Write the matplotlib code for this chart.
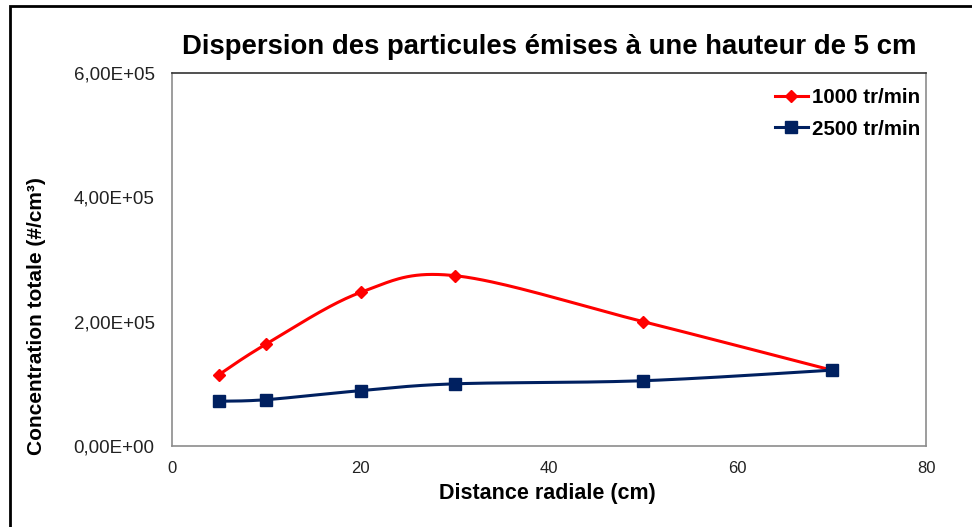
import numpy as np
import matplotlib
matplotlib.use("Agg")
import matplotlib.pyplot as plt
from matplotlib.lines import Line2D
from matplotlib.patches import Rectangle

# Data
distance_cm = [5, 10, 20, 30, 50, 70]
conc_1000 = [1.15e5, 1.64e5, 2.47e5, 2.74e5, 2.00e5, 1.22e5]
conc_2500 = [0.72e5, 0.745e5, 0.89e5, 1.00e5, 1.05e5, 1.22e5]
series_labels = ["1000 tr/min", "2500 tr/min"]
y_ticks = [0, 2e5, 4e5, 6e5]
y_tick_labels = ["0,00E+00", "2,00E+05", "4,00E+05", "6,00E+05"]
x_ticks = [0, 20, 40, 60, 80]

plt.rcParams["font.family"] = ["Liberation Sans", "DejaVu Sans"]

W, H = 972, 527
fig = plt.figure(figsize=(W / 100, H / 100), dpi=100)
AX = [0.177, 0.1537, 0.7757, 0.7078]
ax = fig.add_axes(AX)
ax.set_xlim(0, 80)
ax.set_ylim(0, 6e5)

ASPECT = (AX[3] * H) / (AX[2] * W)


def smooth_path(xs, ys, xr, yr, n=40):
    """Parametric Catmull-Rom (Bezier) smoothing in normalized axes space."""
    px = (np.asarray(xs, float) - xr[0]) / (xr[1] - xr[0])
    py = (np.asarray(ys, float) - yr[0]) / (yr[1] - yr[0]) * ASPECT
    pts = np.column_stack([px, py])
    out = []
    m = len(pts)
    for i in range(m - 1):
        p0 = pts[i - 1] if i > 0 else pts[i]
        p1 = pts[i]
        p2 = pts[i + 1]
        p3 = pts[i + 2] if i + 2 < m else pts[i + 1]
        c1 = p1 + (p2 - p0) / 6.0
        c2 = p2 - (p3 - p1) / 6.0
        t = np.linspace(0, 1, n)[:, None]
        seg = ((1 - t) ** 3) * p1 + 3 * ((1 - t) ** 2) * t * c1 + 3 * (1 - t) * t ** 2 * c2 + t ** 3 * p2
        out.append(seg if i == 0 else seg[1:])
    seg = np.vstack(out)
    sx = seg[:, 0] * (xr[1] - xr[0]) + xr[0]
    sy = seg[:, 1] / ASPECT * (yr[1] - yr[0]) + yr[0]
    return sx, sy


red = "#FF0000"
navy = "#002060"
LW = 2.2

for ys, col in [(conc_1000, red), (conc_2500, navy)]:
    sx, sy = smooth_path(distance_cm, ys, (0, 80), (0, 6e5))
    ax.plot(sx, sy, color=col, lw=LW, zorder=3, solid_capstyle="round")
ax.plot(distance_cm, conc_1000, linestyle="none", marker="D", ms=6.5, color=red, zorder=4)
ax.plot(distance_cm, conc_2500, linestyle="none", marker="s", ms=8, color=navy, zorder=5)

ax.set_yticks(y_ticks)
ax.set_yticklabels(y_tick_labels)
ax.set_xticks(x_ticks)
ax.tick_params(axis="both", length=0, colors="#222222")
ax.tick_params(axis="y", labelsize=13.5, pad=12.5)
ax.tick_params(axis="x", labelsize=12, pad=11)
for s in ["left", "bottom", "right"]:
    ax.spines[s].set_color("#8c8c8c")
    ax.spines[s].set_linewidth(1.2)
ax.spines["top"].set_color("#333333")
ax.spines["top"].set_linewidth(1.2)

fig.text(547 / W, 1 - 493 / H, "Distance radiale (cm)", ha="center", va="center",
         fontsize=15.5, fontweight="bold")
fig.text(37 / W, 1 - 316 / H, "Concentration totale (#/cm³)", ha="center", va="center",
         rotation=90, fontsize=15, fontweight="bold")
fig.text(549 / W, 1 - 47 / H, "Dispersion des particules émises à une hauteur de 5 cm",
         ha="center", va="center", fontsize=19.8, fontweight="bold")

handles = [
    Line2D([], [], color=red, lw=LW, marker="D", ms=6.5),
    Line2D([], [], color=navy, lw=LW, marker="s", ms=8),
]
ax.legend(handles, series_labels, loc="upper right", frameon=False,
          bbox_to_anchor=(1.003, 0.982), borderaxespad=0,
          prop={"weight": "bold", "size": 14.8}, handlelength=1.6, handletextpad=0.2,
          labelspacing=0.62)

# Outer chart border
fig.patches.append(Rectangle((10 / W, -0.05), 1.2, (H - 6) / H + 0.05,
                             transform=fig.transFigure, fill=False,
                             edgecolor="black", lw=2.0))

fig.savefig("out.png", dpi=100)
